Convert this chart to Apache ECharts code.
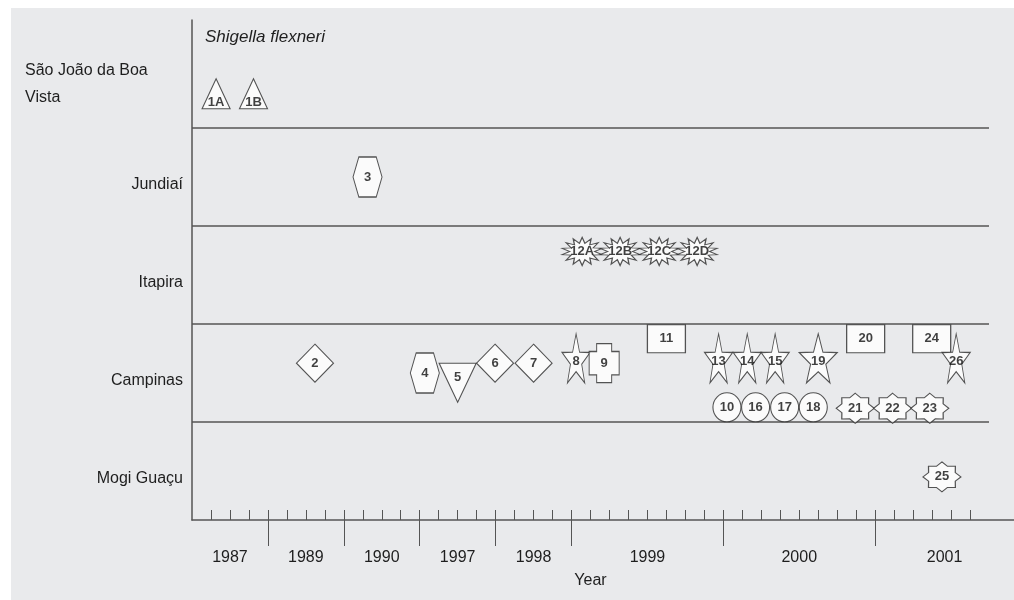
<!DOCTYPE html>
<html>
<head>
<meta charset="utf-8">
<script src="https://cdn.jsdelivr.net/npm/echarts@6/dist/echarts.min.js"></script>
<style>
  html, body { margin: 0; background: #fff; }
  #chart { position: absolute; left: 11px; top: 8px; width: 1003px; height: 592px; }
</style>
</head>
<body>
<div id="chart"></div>
<script>
// rows, bottom to top
const ROWS = ['Mogi Guaçu', 'Campinas', 'Itapira', 'Jundiaí', 'São João da Boa\nVista']

// x axis runs in quarters; each year starts at YEAR_STARTS
const YEARS = ['1987', '1989', '1990', '1997', '1998', '1999', '2000', '2001']
const YEAR_STARTS = [0, 4, 8, 12, 16, 20, 28, 36]

// isolates: label, position (quarters, row units), marker type
const ISOLATES = ['1A', '1B', '3', '12A', '12B', '12C', '12D', '2', '4', '5', '6', '7', '8', '9',
  '11', '13', '14', '15', '19', '20', '24', '26', '10', '16', '17', '18', '21', '22', '23', '25']
const ISOLATE_X = [1.27, 3.24, 9.25, 20.56, 22.56, 24.62, 26.62, 6.48, 12.27, 14.0, 15.97, 18.0, 20.24, 21.72,
  25.0, 27.75, 29.26, 30.73, 33.0, 35.5, 38.98, 40.27, 28.19, 29.7, 31.23, 32.74, 34.95, 36.92, 38.88, 39.52]
const ISOLATE_Y = [4.35, 4.35, 3.5, 2.74, 2.74, 2.74, 2.74, 1.6, 1.5, 1.4, 1.6, 1.6, 1.65, 1.6,
  1.85, 1.65, 1.65, 1.65, 1.65, 1.85, 1.85, 1.65, 1.15, 1.15, 1.15, 1.15, 1.14, 1.14, 1.14, 0.44]
const ISOLATE_SHAPE = ['triangle', 'triangle', 'hexagon', 'burst', 'burst', 'burst', 'burst', 'diamond',
  'hexagon', 'triangleDown', 'diamond', 'diamond', 'star', 'cross', 'rect', 'star', 'star', 'star',
  'starWide', 'rect', 'rect', 'star', 'circle', 'circle', 'circle', 'circle', 'star8', 'star8', 'star8', 'star8']

const INK = '#1e1e1e'
const LINE = '#555'
const FONT = '"Liberation Sans", Arial, sans-serif'

function polyPath(pts) {
  return 'path://' + pts.map((p, i) => (i ? 'L' : 'M') + p[0].toFixed(3) + ',' + p[1].toFixed(3)).join(' ') + ' Z'
}

function starPath(n, inner) {
  const pts = []
  for (let k = 0; k < n * 2; k++) {
    const a = -Math.PI / 2 + k * Math.PI / n
    const r = k % 2 ? inner : 1
    pts.push([10 + 10 * r * Math.cos(a), 10 + 10 * r * Math.sin(a)])
  }
  return polyPath(pts)
}

const SHAPE_STYLE = {
  triangle: { symbol: 'triangle', size: [28, 30], dy: 9 },
  triangleDown: { symbol: polyPath([[0, 0], [10, 0], [5, 10]]), size: [37, 39], dy: -5 },
  hexagon: { symbol: polyPath([[2, 0], [8, 0], [10, 5], [8, 10], [2, 10], [0, 5]]), size: [29, 40], dy: 0 },
  diamond: { symbol: 'diamond', size: [37, 38], dy: 0 },
  star: { symbol: starPath(5, 0.4), size: [28, 49], dy: 3 },
  starWide: { symbol: starPath(5, 0.4), size: [38, 49], dy: 3 },
  cross: {
    symbol: polyPath([[2.5, 0], [7.5, 0], [7.5, 2], [10, 2], [10, 8], [7.5, 8], [7.5, 10], [2.5, 10], [2.5, 8], [0, 8], [0, 2], [2.5, 2]]),
    size: [30, 39], dy: 0
  },
  rect: { symbol: 'rect', size: [38, 28], dy: 0 },
  circle: { symbol: 'circle', size: [28, 29], dy: 0 },
  star8: { symbol: starPath(8, 0.76), size: [38, 30], dy: 0 },
  burst: { symbol: starPath(14, 0.6), size: [40, 28], dy: 0 }
}

const GRID_LEFT = 181
const GRID_RIGHT_INNER = 25
const CHART_W = 1003
const X_MAX = 42
const X_MAX_FULL = X_MAX * (CHART_W - GRID_LEFT) / (CHART_W - GRID_LEFT - GRID_RIGHT_INNER)

const yearMids = YEAR_STARTS.map((s, i) => (s + (i + 1 < YEAR_STARTS.length ? YEAR_STARTS[i + 1] : X_MAX_FULL)) / 2)
const minorTicks = []
for (let q = 1; q <= 41; q++) minorTicks.push(q)
const rowLabelPos = ROWS.map((r, i) => r.includes('\n') ? i + 0.45 : i + 0.42)

const points = ISOLATES.map((name, i) => {
  const st = SHAPE_STYLE[ISOLATE_SHAPE[i]]
  return {
    name,
    value: [ISOLATE_X[i], ISOLATE_Y[i]],
    symbol: st.symbol,
    symbolSize: st.size,
    label: { offset: [0, st.dy] }
  }
})

const chart = echarts.init(document.getElementById('chart'))
chart.setOption({
  backgroundColor: '#e9eaec',
  animation: false,
  title: {
    text: 'Shigella flexneri',
    left: 189, top: 16,
    textStyle: { fontFamily: FONT, fontStyle: 'italic', fontWeight: 'normal', fontSize: 17, color: INK }
  },
  grid: [
    { left: GRID_LEFT, right: 0, top: 12, bottom: 80 },
    { left: GRID_LEFT, right: GRID_RIGHT_INNER, top: 22, bottom: 80 }
  ],
  xAxis: [
    {
      gridIndex: 0, type: 'value', min: 0, max: X_MAX_FULL,
      axisLine: { lineStyle: { color: LINE, width: 1.5 } },
      axisTick: { show: true, inside: true, length: 10, customValues: minorTicks, lineStyle: { color: LINE } },
      axisLabel: { show: false },
      splitLine: { show: false }
    },
    {
      gridIndex: 1, type: 'value', min: 0, max: X_MAX, position: 'bottom',
      axisLine: { show: false },
      axisTick: { show: true, length: 26, customValues: YEAR_STARTS.slice(1), lineStyle: { color: LINE } },
      axisLabel: {
        customValues: yearMids,
        margin: 30,
        fontFamily: FONT, fontSize: 16, color: INK,
        formatter: v => {
          let best = 0
          yearMids.forEach((m, i) => { if (Math.abs(m - v) < Math.abs(yearMids[best] - v)) best = i })
          return YEARS[best]
        }
      },
      splitLine: { show: false },
      name: 'Year', nameLocation: 'middle', nameGap: 53,
      nameTextStyle: { fontFamily: FONT, fontSize: 16, color: INK }
    }
  ],
  yAxis: [
    {
      gridIndex: 0, type: 'value', min: 0, max: 1,
      axisLine: { show: true, lineStyle: { color: LINE, width: 1.5 } },
      axisTick: { show: false }, axisLabel: { show: false }, splitLine: { show: false }
    },
    {
      gridIndex: 1, type: 'value', min: 0, max: ROWS.length, interval: 1,
      axisLine: { show: false }, axisTick: { show: false },
      splitLine: { show: true, showMinLine: false, showMaxLine: false, lineStyle: { color: LINE, width: 1.5 } },
      axisLabel: {
        customValues: rowLabelPos,
        margin: 9,
        fontFamily: FONT, fontSize: 16, color: INK,
        formatter: v => {
          const r = ROWS[Math.floor(v)]
          return r.includes('\n') ? r.split('\n').map(l => '{t|' + l + '}').join('\n') : r
        },
        rich: { t: { width: 158, align: 'left', fontFamily: FONT, fontSize: 16, lineHeight: 27, color: INK } }
      }
    }
  ],
  series: [{
    type: 'scatter',
    xAxisIndex: 1, yAxisIndex: 1,
    data: points,
    itemStyle: { color: '#fff', borderColor: '#2a2a2a', borderWidth: 1.1 },
    label: {
      show: true, position: 'inside',
      formatter: p => p.name,
      fontFamily: FONT, fontWeight: 'bold', fontSize: 13, color: '#111'
    },
    emphasis: { disabled: true }
  }]
})
</script>
</body>
</html>
